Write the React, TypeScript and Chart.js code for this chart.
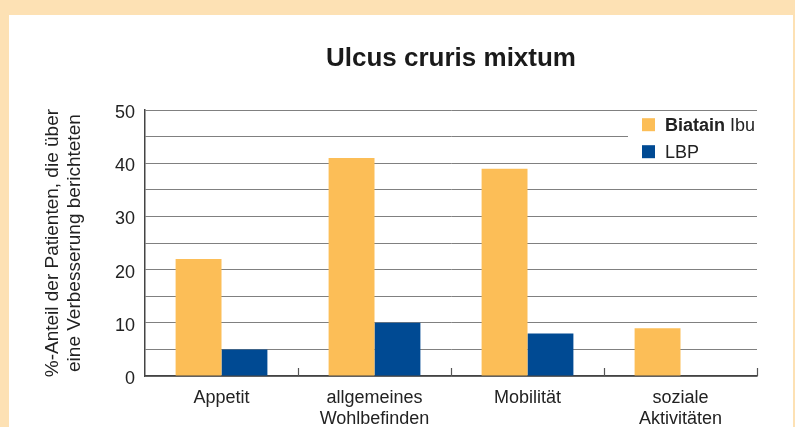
import React, { useEffect, useRef } from "react";
import { Chart, registerables } from "chart.js";

Chart.register(...registerables);

const TITLE = "Ulcus cruris mixtum";
const Y_TITLE = ["%-Anteil der Patienten, die über", "eine Verbesserung berichteten"];
const categories: string[][] = [
  ["Appetit"],
  ["allgemeines", "Wohlbefinden"],
  ["Mobilität"],
  ["soziale", "Aktivitäten"],
];
const seriesNames = ["Biatain Ibu", "LBP"];
const legendBold = ["Biatain", ""];
const legendRegular = [" Ibu", "LBP"];
const biatainValues = [22, 41, 39, 9];
const lbpValues = [5, 10, 8, 0];
const yMin = 0;
const yMax = 50;
const yStep = 5;
const yLabelStep = 10;

const ORANGE = "#FCBE57";
const BLUE = "#004A93";
const FONT = "'Liberation Sans', Arial, Helvetica, sans-serif";

const innerTicksPlugin = {
  id: "innerTicks",
  afterDatasetsDraw(chart: any) {
    const x = chart.scales.x;
    const { ctx, chartArea } = chart;
    ctx.save();
    ctx.strokeStyle = "#555";
    ctx.lineWidth = 1.2;
    for (let i = 1; i <= categories.length; i++) {
      const px = Math.round(x.getPixelForValue(i - 0.5)) + 0.5;
      ctx.beginPath();
      ctx.moveTo(px, chartArea.bottom);
      ctx.lineTo(px, chartArea.bottom - 8);
      ctx.stroke();
    }
    ctx.restore();
  },
};

const customLegendPlugin = {
  id: "customLegend",
  afterDraw(chart: any) {
    const { ctx, chartArea } = chart;
    ctx.save();
    ctx.fillStyle = "#ffffff";
    ctx.fillRect(chartArea.right - 129, chartArea.top + 1, 129, 50);
    ctx.beginPath();
    ctx.rect(chartArea.left, chartArea.top, chartArea.right - chartArea.left + 1, 60);
    ctx.clip();
    const colors = chart.data.datasets.map((d: any) => d.backgroundColor);
    for (let i = 0; i < chart.data.datasets.length; i++) {
      const sy = chartArea.top + 8 + i * 27;
      const sx = chartArea.right - 115;
      ctx.fillStyle = colors[i];
      ctx.fillRect(sx, sy, 13, 13);
      let tx = sx + 23;
      const by = sy + 13;
      ctx.fillStyle = "#222";
      ctx.textBaseline = "alphabetic";
      ctx.textAlign = "left";
      if (legendBold[i]) {
        ctx.font = `bold 18px ${FONT}`;
        ctx.fillText(legendBold[i], tx, by);
        tx += ctx.measureText(legendBold[i]).width;
      }
      ctx.font = `18px ${FONT}`;
      ctx.fillText(legendRegular[i], tx, by);
    }
    ctx.restore();
  },
};

export default function App() {
  const ref = useRef<HTMLCanvasElement | null>(null);

  useEffect(() => {
    if (!ref.current) return;
    const chart = new Chart(ref.current, {
      type: "bar",
      data: {
        labels: categories,
        datasets: [
          {
            label: seriesNames[0],
            data: biatainValues,
            backgroundColor: ORANGE,
            borderWidth: 0,
            categoryPercentage: 0.6,
            barPercentage: 1.0,
          },
          {
            label: seriesNames[1],
            data: lbpValues,
            backgroundColor: BLUE,
            borderWidth: 0,
            categoryPercentage: 0.6,
            barPercentage: 1.0,
          },
        ],
      },
      options: {
        responsive: false,
        animation: false,
        devicePixelRatio: 1,
        layout: { padding: { left: 0, right: 36, top: 0, bottom: 0 } },
        plugins: {
          legend: { display: false },
          tooltip: { enabled: false },
          title: {
            display: true,
            text: TITLE,
            fullSize: false,
            color: "#1a1a1a",
            font: { family: FONT, size: 26, weight: "bold", lineHeight: 1.2 },
            padding: { top: 28, bottom: 36 },
          },
        },
        scales: {
          x: {
            grid: { display: false, drawTicks: false },
            border: { display: true, color: "#444", width: 1.5 },
            ticks: {
              color: "#222",
              font: { family: FONT, size: 18, lineHeight: 1.2 },
              padding: 11,
              maxRotation: 0,
              autoSkip: false,
            },
            afterFit(scale: any) {
              scale.height = 51;
            },
          },
          y: {
            min: yMin,
            max: yMax,
            grid: { color: "#808080", lineWidth: 1, drawTicks: false },
            border: { display: true, color: "#444", width: 1.5 },
            ticks: {
              stepSize: yStep,
              color: "#222",
              font: { family: FONT, size: 18 },
              padding: 10,
              labelOffset: 3,
              callback: (v: any) => (Number(v) % yLabelStep === 0 ? String(v) : ""),
            },
            title: {
              display: true,
              text: Y_TITLE,
              color: "#222",
              font: { family: FONT, size: 19, lineHeight: "22px" as any },
              padding: { top: 33, bottom: 0 },
            },
            afterFit(scale: any) {
              scale.width = 136;
            },
          },
        },
      },
      plugins: [innerTicksPlugin, customLegendPlugin],
    });
    return () => chart.destroy();
  }, []);

  return (
    <div
      style={{
        position: "fixed",
        left: 0,
        top: 0,
        width: 795,
        height: 427,
        background: "#FDE1B4",
        overflow: "hidden",
      }}
    >
      <canvas
        ref={ref}
        width={784}
        height={412}
        style={{
          position: "absolute",
          left: 9,
          top: 15,
          width: 784,
          height: 412,
          background: "#ffffff",
          display: "block",
        }}
      />
    </div>
  );
}
